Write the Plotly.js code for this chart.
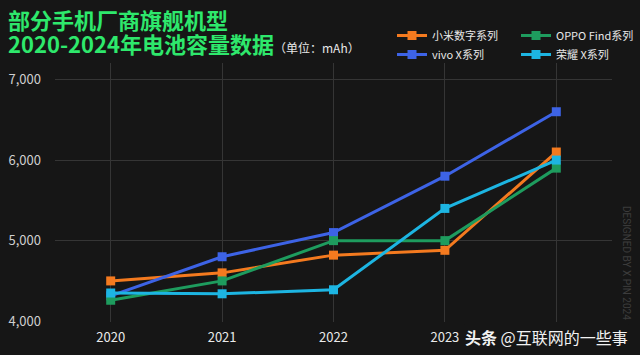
<!DOCTYPE html>
<html>
<head>
<meta charset="utf-8">
<script src="https://cdn.plot.ly/plotly-3.0.1.min.js"></script>
<style>html,body{margin:0;padding:0;background:#161616;}</style>
</head>
<body>
<div id="chart" style="width:640px;height:355px;"></div>
<script>
const years = [2020, 2021, 2022, 2023, 2024];
const seriesNames = ["小米数字系列", "vivo X系列", "OPPO Find系列", "荣耀 X系列"];
const xiaomi = [4500, 4600, 4820, 4880, 6100];
const vivo = [4315, 4800, 5100, 5800, 6600];
const oppo = [4260, 4500, 5000, 5000, 5900];
const honor = [4350, 4340, 4390, 5400, 6000];
const yTicks = [4000, 5000, 6000, 7000];
const yTickLabels = ["4,000", "5,000", "6,000", "7,000"];

const colors = ["#f47a1f", "#3d63e6", "#1e9c5e", "#1db5e2"];
const values = [xiaomi, vivo, oppo, honor];
const legendOf = ["legend", "legend", "legend2", "legend2"];
const traces = [0, 1, 2, 3].map(i => ({
  x: years, y: values[i], name: seriesNames[i], type: "scatter", mode: "lines+markers",
  legend: legendOf[i],
  line: {color: colors[i], width: 3},
  marker: {color: colors[i], symbol: "square", size: 9}
}));
const font = "'Noto Sans CJK SC', 'Noto Sans', sans-serif";
const PW = 557, PH = 259;
const legendBase = {orientation: "v", xref: "container", yref: "container",
  y: 1 - 21 / 355, xanchor: "left", yanchor: "top",
  tracegroupgap: 0, font: {size: 11, color: "#e8e8e8", family: font}, bgcolor: "rgba(0,0,0,0)"};
const layout = {
  width: 640, height: 355,
  paper_bgcolor: "#161616", plot_bgcolor: "#161616",
  margin: {l: 55, r: 28, t: 63, b: 33, autoexpand: false},
  font: {family: font, color: "#e0e0e0", size: 12},
  showlegend: true,
  legend: Object.assign({}, legendBase, {x: 392 / 640}),
  legend2: Object.assign({}, legendBase, {x: 516 / 640}),
  xaxis: {range: [2019.5, 2024.5], tickvals: years, ticktext: years.map(String),
    showgrid: true, gridcolor: "#353535", gridwidth: 1, zeroline: false, showline: false,
    ticks: "", tickfont: {size: 13, color: "#eaeaea"}, ticklabelstandoff: 6, fixedrange: true},
  yaxis: {range: [3990, 7205], tickvals: yTicks, ticktext: yTickLabels,
    showgrid: true, gridcolor: "#353535", gridwidth: 1, zeroline: false, showline: false,
    ticks: "", tickfont: {size: 13, color: "#cfcfcf"}, ticklabelstandoff: 13},
  annotations: [
    {xref: "paper", yref: "paper", x: -49 / PW, y: 1 + 44 / PH, xanchor: "left", yanchor: "middle",
     text: "<b>部分手机厂商旗舰机型</b>", showarrow: false,
     font: {size: 22, color: "#2ee86c", family: font}},
    {xref: "paper", yref: "paper", x: -49 / PW, y: 1 + 20 / PH, xanchor: "left", yanchor: "middle",
     text: "<b>2020-2024年电池容量数据</b><span style='font-size:12px;color:#e8e8e8;font-weight:normal'>（单位：mAh）</span>", showarrow: false,
     font: {size: 22, color: "#2ee86c", family: font}},
    {xref: "paper", yref: "paper", x: 1 + 14 / PW, y: 0.228, xanchor: "center", yanchor: "middle",
     text: "DESIGNED BY X PIN 2024", textangle: 90, showarrow: false,
     font: {size: 10, color: "#3c3c3c", family: "Roboto, sans-serif"}},
    {xref: "paper", yref: "paper", x: 1 + 17 / PW, y: -15 / PH, xanchor: "right", yanchor: "middle",
     text: "<b>头条</b> @互联网的一些事", showarrow: false, bgcolor: "#161616", borderpad: 0,
     font: {size: 16, color: "#f2f2f2", family: font}}
  ]
};
Plotly.newPlot("chart", traces, layout, {displayModeBar: false, staticPlot: true});
</script>
</body>
</html>
